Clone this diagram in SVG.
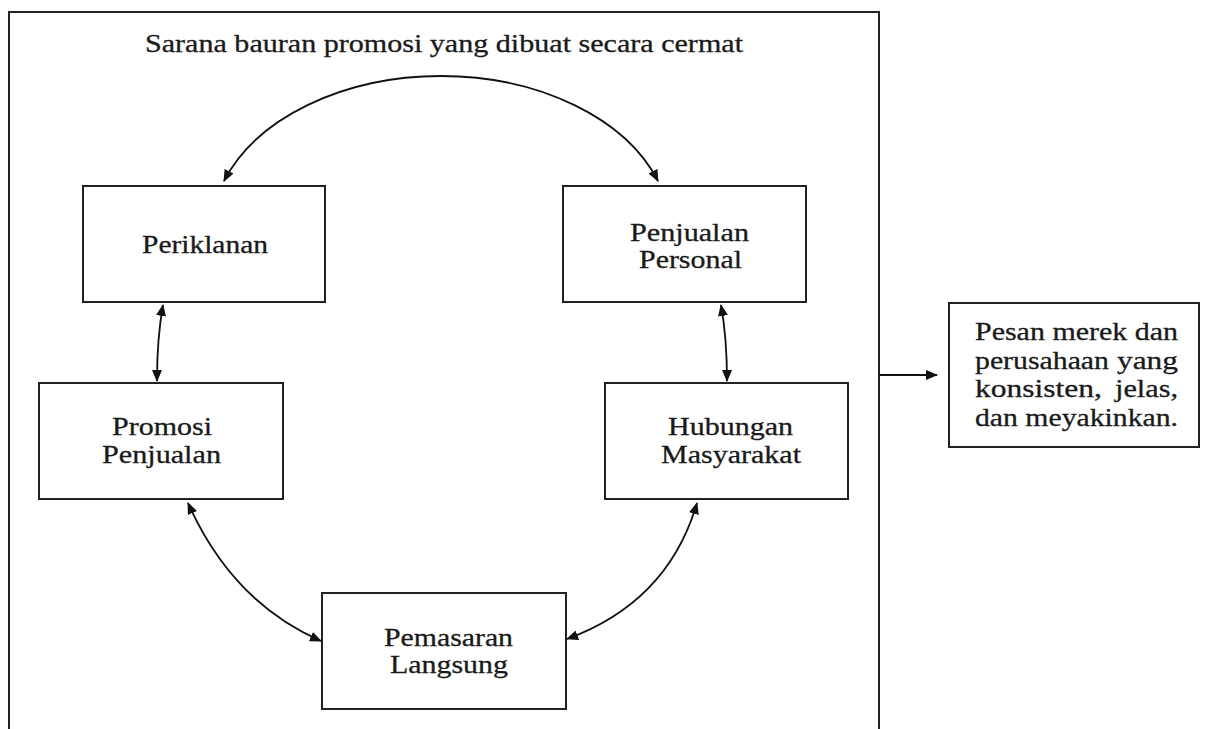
<svg xmlns="http://www.w3.org/2000/svg" width="1206" height="729" viewBox="0 0 1206 729">
<defs>
<style>
.box{fill:#fff;stroke:#222;stroke-width:2}
.frame{fill:none;stroke:#222;stroke-width:2}
.t{font-family:'Liberation Serif','Times New Roman',Tinos,serif;font-size:25px;fill:#1a1a1a;stroke:#1a1a1a;stroke-width:0.3}
.tm{text-anchor:middle}
.c{fill:none;stroke:#111;stroke-width:1.8}
</style>
<marker id="ah" viewBox="0 0 12 10" refX="11" refY="5" markerWidth="12" markerHeight="10" markerUnits="userSpaceOnUse" orient="auto-start-reverse">
<path d="M0,0 L12,5 L0,10 Z" fill="#111"/>
</marker>
</defs>
<rect width="1206" height="729" fill="#fff"/>
<g id="frame">
<path class="frame" d="M9,740 L9,12 L879,12 L879,740"/>
<text class="t tm" x="444" y="52" textLength="598" lengthAdjust="spacingAndGlyphs">Sarana bauran promosi yang dibuat secara cermat</text>
</g>
<g id="periklanan">
<rect class="box" x="83" y="186" width="242" height="116"/>
<text class="t tm" x="205" y="253" textLength="126" lengthAdjust="spacingAndGlyphs">Periklanan</text>
</g>
<g id="penjualan-personal">
<rect class="box" x="563" y="186" width="243" height="116"/>
<text class="t tm" x="689.5" y="241" textLength="119" lengthAdjust="spacingAndGlyphs">Penjualan</text>
<text class="t tm" x="690.5" y="268" textLength="103" lengthAdjust="spacingAndGlyphs">Personal</text>
</g>
<g id="promosi-penjualan">
<rect class="box" x="39" y="383" width="244" height="116"/>
<text class="t tm" x="162" y="435" textLength="100" lengthAdjust="spacingAndGlyphs">Promosi</text>
<text class="t tm" x="161.5" y="463" textLength="119" lengthAdjust="spacingAndGlyphs">Penjualan</text>
</g>
<g id="hubungan-masyarakat">
<rect class="box" x="605" y="383" width="243" height="116"/>
<text class="t tm" x="730.5" y="435" textLength="125" lengthAdjust="spacingAndGlyphs">Hubungan</text>
<text class="t tm" x="731" y="463" textLength="140" lengthAdjust="spacingAndGlyphs">Masyarakat</text>
</g>
<g id="pemasaran-langsung">
<rect class="box" x="322" y="593" width="244" height="116"/>
<text class="t tm" x="448.5" y="646" textLength="129" lengthAdjust="spacingAndGlyphs">Pemasaran</text>
<text class="t tm" x="449" y="673" textLength="118" lengthAdjust="spacingAndGlyphs">Langsung</text>
</g>
<g id="pesan">
<rect class="box" x="949" y="303" width="250" height="144"/>
<text class="t" x="975" y="340" textLength="203" lengthAdjust="spacingAndGlyphs">Pesan merek dan</text>
<text class="t" x="975" y="368.5" textLength="134" lengthAdjust="spacingAndGlyphs">perusahaan</text>
<text class="t" x="1117" y="368.5" textLength="61" lengthAdjust="spacingAndGlyphs">yang</text>
<text class="t" x="975" y="397" textLength="127" lengthAdjust="spacingAndGlyphs">konsisten,</text>
<text class="t" x="1115" y="397" textLength="63" lengthAdjust="spacingAndGlyphs">jelas,</text>
<text class="t" x="975" y="425.5" textLength="203" lengthAdjust="spacingAndGlyphs">dan meyakinkan.</text>
</g>
<g id="connectors">
<path class="c" d="M441,76 A 230 157 0 0 0 224,181" marker-end="url(#ah)"/>
<path class="c" d="M441,76 A 230 157 0 0 1 658,181" marker-end="url(#ah)"/>
<path class="c" d="M163,305 Q157,338 157,381" marker-start="url(#ah)" marker-end="url(#ah)"/>
<path class="c" d="M721,305 Q727,338 727,381" marker-start="url(#ah)" marker-end="url(#ah)"/>
<path class="c" d="M188,503 Q232,602 321,641" marker-start="url(#ah)" marker-end="url(#ah)"/>
<path class="c" d="M697,503 Q668,602 567,639" marker-start="url(#ah)" marker-end="url(#ah)"/>
<path class="c" d="M879,375 L937,375" marker-end="url(#ah)"/>
</g>
</svg>
